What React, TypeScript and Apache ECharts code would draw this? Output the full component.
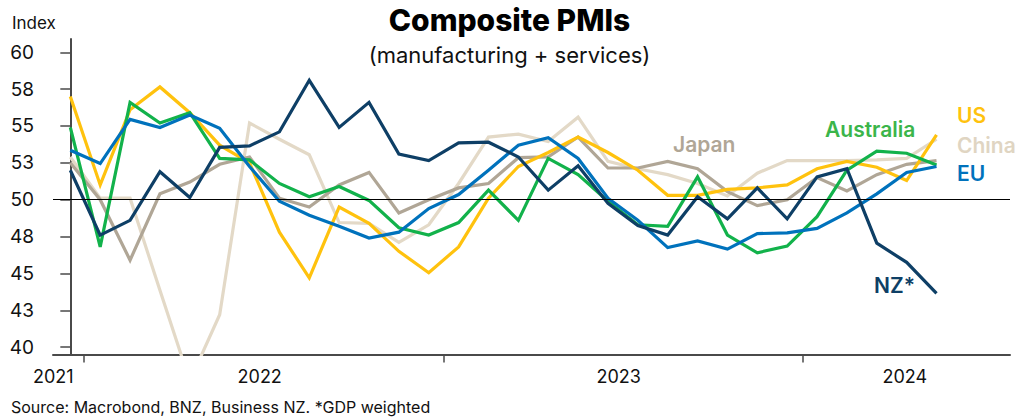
import React, { useEffect, useRef } from "react";
import * as echarts from "echarts";

// Monthly composite PMI readings (index)
const US = [57.0, 51.0, 56.1, 57.65, 55.9, 53.7, 52.5, 47.8, 44.7, 49.5, 48.4, 46.5, 45.05, 46.8, 50.1, 52.25, 53.2, 54.25, 53.2, 52.0, 50.3, 50.3, 50.7, 50.8, 51.0, 52.1, 52.6, 52.2, 51.3, 54.4];
const China = [52.9, 50.1, 50.1, 43.85, 37.7, 42.2, 55.2, 54.1, 53.05, 48.45, 48.4, 47.1, 48.3, 51.1, 54.25, 54.45, 53.95, 55.6, 52.6, 52.1, 51.7, 51.1, 50.25, 51.8, 52.65, 52.65, 52.65, 52.7, 52.8, 54.1];
const Japan = [52.5, 50.0, 45.9, 50.4, 51.2, 52.4, 52.9, 50.1, 49.5, 51.0, 51.85, 49.1, 50.0, 50.8, 51.1, 52.85, 52.9, 54.25, 52.15, 52.15, 52.6, 52.1, 50.55, 49.6, 50.0, 51.5, 50.6, 51.7, 52.4, 52.65];
const Australia = [54.9, 46.8, 56.6, 55.2, 55.9, 52.8, 52.7, 51.1, 50.2, 50.9, 49.95, 48.1, 47.6, 48.45, 50.65, 48.6, 52.8, 51.7, 49.9, 48.3, 48.2, 51.55, 47.6, 46.4, 46.85, 48.85, 52.0, 53.3, 53.15, 52.35];
const EU = [53.35, 52.45, 55.45, 54.9, 55.75, 54.85, 52.25, 49.9, 48.95, 48.2, 47.4, 47.8, 49.4, 50.35, 52.0, 53.7, 54.2, 52.8, 50.1, 48.6, 46.75, 47.2, 46.65, 47.7, 47.75, 48.05, 49.1, 50.4, 51.85, 52.25];
const NZ = [52.0, 47.6, 48.6, 51.9, 50.15, 53.55, 53.65, 54.6, 58.1, 54.9, 56.6, 53.1, 52.65, 53.85, 53.9, 52.9, 50.65, 52.3, 49.75, 48.25, 47.6, 50.2, 48.7, 50.8, 48.7, 51.55, 52.1, 47.05, 45.75, 43.65];

// Axis ticks / labels
const yTicks = [40, 42.5, 45, 47.5, 50, 52.5, 55, 57.5, 60];
const yearLabels = ["2021", "2022", "2023", "2024"];
const yearLabelAt = [-0.57, 6.34, 18.36, 27.94];
const yearTickAt = [0.46, 12.5, 24.53];

const FONT = "Inter, 'Noto Sans', sans-serif";

const COLORS = {
  US: "#FFC20E",
  China: "#E3D9C7",
  Japan: "#B0A696",
  Australia: "#12B24B",
  EU: "#0072BC",
  NZ: "#0E3F66",
};

const toXY = (arr: number[]) => arr.map((v, i) => [i, v]);

export default function App() {
  const ref = useRef<HTMLDivElement>(null);
  useEffect(() => {
    if (!ref.current) return;
    const chart = echarts.init(ref.current, null, { renderer: "svg" });
    const line = (name: string, data: number[], color: string, extra: any = {}) => ({
      name,
      type: "line",
      data: toXY(data),
      symbol: "none",
      lineStyle: { color, width: 3.2, join: "miter" },
      itemStyle: { color },
      clip: true,
      ...extra,
    });
    const label = (text: string, x: number, y: number, color: string) => ({
      type: "text",
      left: x,
      top: y - 13,
      style: { text, fill: color, font: `600 21px ${FONT}`, textVerticalAlign: "top" },
      z: 10,
    });
    chart.setOption({
      animation: false,
      backgroundColor: "#ffffff",
      grid: { left: 53, right: 9, top: 39, bottom: 64.5, containLabel: false },
      xAxis: {
        type: "value",
        min: -0.58,
        max: 31.46,
        axisLine: { onZero: false, lineStyle: { color: "#4a4a4a", width: 2 } },
        axisTick: { show: true, customValues: yearTickAt, length: 8, lineStyle: { color: "#4a4a4a", width: 1.5 } },
        axisLabel: {
          customValues: yearLabelAt,
          formatter: (v: number) => {
            const k = yearLabelAt.findIndex((p) => Math.abs(p - v) < 1e-6);
            return k >= 0 ? yearLabels[k] : "";
          },
          color: "#111",
          fontFamily: FONT,
          fontSize: 18,
          margin: 13,
          showMinLabel: true,
          showMaxLabel: true,
        },
        splitLine: { show: false },
      },
      yAxis: {
        type: "value",
        min: 39.5,
        max: 60.9,
        axisLine: { show: true, lineStyle: { color: "#4a4a4a", width: 2 } },
        axisTick: { show: true, customValues: yTicks, length: 10, lineStyle: { color: "#4a4a4a", width: 1.5 } },
        axisLabel: {
          customValues: yTicks,
          formatter: (v: number) => String(Math.round(v)),
          color: "#111",
          fontFamily: FONT,
          fontSize: 19,
          margin: 19,
        },
        splitLine: { show: false },
      },
      series: [
        line("China", China, COLORS.China, {
          markLine: {
            silent: true,
            symbol: "none",
            label: { show: false },
            lineStyle: { color: "#000", width: 1, type: "solid" },
            data: [{ yAxis: 50 }],
          },
        }),
        line("Japan", Japan, COLORS.Japan),
        line("US", US, COLORS.US),
        line("Australia", Australia, COLORS.Australia),
        line("EU", EU, COLORS.EU),
        line("NZ*", NZ, COLORS.NZ),
      ],
      graphic: [
        {
          type: "text",
          left: "center",
          top: 5,
          style: { text: "Composite PMIs", fill: "#000", font: `800 30px ${FONT}` },
        },
        {
          type: "text",
          left: "center",
          top: 44,
          style: { text: "(manufacturing + services)", fill: "#111", font: `400 22px ${FONT}` },
        },
        {
          type: "text",
          left: 12,
          top: 14,
          style: { text: "Index", fill: "#111", font: `400 17px ${FONT}` },
        },
        {
          type: "text",
          left: 11,
          top: 399,
          style: { text: "Source: Macrobond, BNZ, Business NZ. *GDP weighted", fill: "#111", font: `400 16px ${FONT}` },
        },
        label("US", 957, 118, COLORS.US),
        label("China", 957, 148, "#E0D5C2"),
        label("EU", 957, 176, COLORS.EU),
        label("Australia", 825, 132, "#3BB54A"),
        label("NZ*", 874, 288, COLORS.NZ),
        label("Japan", 673, 147, COLORS.Japan),
      ],
    });
    return () => chart.dispose();
  }, []);
  return <div ref={ref} style={{ position: "fixed", left: 0, top: 0, width: 1019, height: 419 }} />;
}
